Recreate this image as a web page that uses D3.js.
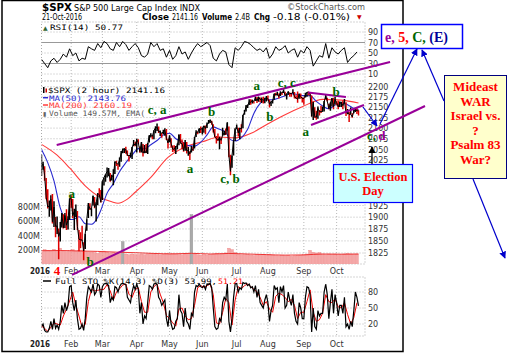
<!DOCTYPE html>
<html><head><meta charset="utf-8">
<script src="https://cdn.jsdelivr.net/npm/d3@7"></script>
<style>body{margin:0;background:#fff}svg{display:block}</style>
</head><body>
<svg id="c" width="512" height="353"></svg>
<script>
// ---------------- DATA ----------------
const monthLabels = ["Feb","Mar","Apr","May","Jun","Jul","Aug","Sep","Oct"];
const monthStartIdx = [19,39,61,82,103,125,145,168,189];
const spxClose = [
2012.7,2016.7,1990.3,1943.1,1922.0,1923.7,1938.7,1890.3,1921.8,1880.3,1881.3,1859.3,1869.0,1906.9,1877.1,1903.6,1883.0,1893.4,1940.2,
1939.4,1903.0,1912.5,1915.5,1880.1,1853.4,1852.2,1851.9,1829.1,1864.8,1895.6,1926.8,1917.8,1917.8,1945.5,1921.3,1929.8,1951.7,1948.1,1932.2,
1978.4,1986.5,1993.4,2000.0,2001.8,1979.3,1989.3,1989.6,2022.2,2019.6,2015.9,2027.2,2040.6,2049.6,2051.6,2049.8,2036.7,2035.9,2037.1,2055.0,2063.9,2059.7,
2072.8,2066.1,2045.2,2066.7,2041.9,2047.6,2042.0,2061.7,2082.4,2082.8,2080.7,2094.3,2100.8,2102.4,2091.5,2091.6,2087.8,2091.7,2095.2,2075.8,2065.3,
2081.4,2063.4,2051.1,2050.6,2057.1,2058.7,2084.4,2064.5,2064.1,2047.2,2066.7,2047.2,2047.6,2040.0,2052.3,2048.0,2076.1,2090.5,2090.1,2099.1,2097.0,
2099.3,2105.3,2099.1,2109.4,2112.1,2119.1,2115.5,2096.1,2079.1,2075.3,2071.5,2078.0,2071.2,2083.3,2088.9,2085.5,2113.3,2037.4,2000.5,2036.1,2070.8,2098.9,
2103.0,2088.6,2099.7,2097.9,2129.9,2137.2,2152.1,2152.4,2163.8,2161.7,2166.9,2163.8,2173.0,2165.2,2175.0,2168.5,2169.2,2166.6,2170.1,2173.6,
2170.8,2157.0,2163.8,2164.3,2182.9,2180.9,2181.7,2175.5,2185.8,2184.1,2190.2,2178.2,2182.2,2187.0,2183.9,2182.6,2186.9,2175.4,2172.5,2169.0,2180.4,2176.1,2171.0,
2170.9,2180.0,2186.5,2186.2,2181.3,2127.8,2159.0,2127.0,2125.8,2147.3,2139.2,2139.1,2139.8,2163.1,2177.2,2164.7,2146.1,2159.9,2171.4,2151.1,2168.3,
2161.2,2150.5,2159.7,2160.8,2153.7,2163.7,2136.7,2139.2,2132.6,2133.0,2126.5,2139.6,2144.3,2141.3,2141.2];
const spxHigh = [
2038.2,2021.9,2011.7,1985.3,1960.4,1935.7,1947.4,1950.3,1934.5,1900.2,1901.4,1876.0,1889.9,1908.9,1906.3,1909.0,1916.9,1902.0,1940.2,
1947.2,1939.0,1918.0,1927.4,1913.1,1873.0,1868.3,1881.6,1847.0,1864.8,1895.8,1930.7,1930.0,1918.8,1946.7,1943.7,1932.1,1951.8,1962.9,1958.9,
1978.4,1986.5,1994.0,2009.1,2008.0,1996.7,1992.7,2005.1,2022.4,2024.6,2017.6,2032.0,2046.7,2052.4,2053.1,2056.6,2048.0,2036.7,2042.7,2055.9,2072.2,2067.9,
2075.1,2074.0,2056.8,2067.3,2062.9,2060.6,2062.9,2065.1,2083.0,2087.8,2083.2,2094.7,2104.1,2111.1,2103.9,2094.3,2088.7,2096.0,2099.9,2097.9,2074.9,
2083.4,2076.1,2059.3,2060.2,2058.0,2064.2,2084.9,2086.0,2073.5,2067.1,2071.9,2067.5,2055.6,2045.9,2058.4,2055.6,2079.1,2094.7,2092.2,2099.1,2103.5,
2100.9,2105.3,2106.0,2113.4,2119.2,2120.6,2117.6,2109.0,2098.1,2081.3,2087.0,2079.6,2078.0,2101.0,2093.7,2099.0,2113.3,2104.0,2038.0,2036.1,2071.6,2098.9,
2108.7,2100.7,2100.7,2109.1,2131.7,2143.2,2155.4,2156.5,2169.0,2169.1,2168.2,2164.5,2175.6,2174.6,2175.1,2173.6,2173.5,2175.0,2172.9,2177.1,
2178.3,2168.1,2164.0,2168.2,2182.9,2185.4,2187.7,2183.5,2188.5,2186.3,2193.8,2187.7,2183.1,2188.5,2185.0,2185.2,2193.4,2186.8,2179.0,2187.9,2183.5,2183.2,2174.1,
2173.6,2184.9,2186.6,2187.9,2184.9,2178.5,2163.3,2149.8,2141.3,2151.3,2143.1,2153.6,2150.8,2165.1,2180.0,2172.7,2158.5,2161.1,2172.4,2172.7,2175.3,
2164.4,2165.5,2163.9,2162.9,2165.9,2169.6,2161.6,2145.4,2138.2,2149.2,2135.6,2144.4,2148.4,2147.2,2142.6];
const spxLow = [
1989.7,2004.2,1979.1,1938.8,1918.5,1901.1,1914.4,1886.7,1878.9,1857.8,1864.6,1812.3,1848.9,1877.9,1875.9,1877.1,1872.7,1873.7,1894.3,
1920.3,1897.8,1872.7,1900.5,1872.7,1828.5,1834.9,1850.3,1810.1,1833.0,1871.4,1898.2,1915.1,1902.2,1924.8,1919.3,1891.0,1925.4,1945.8,1931.8,
1937.1,1968.8,1977.0,1986.8,1989.2,1977.4,1979.8,1969.3,1994.3,2012.4,2004.2,2010.5,2022.2,2041.4,2042.0,2040.6,2034.9,2022.5,2031.9,2028.3,2057.5,2057.5,
2043.1,2062.6,2042.4,2043.1,2033.8,2041.7,2041.9,2039.7,2066.3,2078.1,2073.7,2073.7,2087.8,2093.3,2088.5,2081.2,2077.5,2085.8,2082.3,2071.9,2052.3,
2066.8,2054.3,2044.2,2045.6,2039.5,2050.5,2059.9,2064.2,2050.4,2044.7,2047.0,2041.1,2035.6,2025.9,2043.0,2047.3,2052.6,2078.9,2085.7,2087.9,2088.7,
2085.1,2089.0,2085.4,2100.3,2110.0,2112.1,2107.7,2089.8,2078.9,2064.1,2070.0,2050.4,2062.8,2082.0,2083.0,2084.0,2094.2,2032.6,1991.7,2008.6,2036.6,2070.0,
2097.9,2080.0,2074.0,2089.4,2099.7,2131.6,2139.6,2148.0,2155.1,2155.8,2159.1,2159.1,2164.9,2159.8,2163.2,2161.9,2160.2,2159.1,2159.7,2163.5,
2166.2,2149.3,2152.5,2159.1,2168.2,2177.9,2178.6,2170.8,2177.2,2179.4,2184.5,2178.1,2168.5,2180.4,2175.1,2175.0,2184.0,2171.3,2169.7,2160.4,2170.7,2170.7,2161.3,
2156.1,2173.6,2175.1,2179.1,2177.5,2127.8,2119.1,2123.8,2119.9,2122.4,2130.0,2135.9,2139.2,2139.6,2170.0,2163.5,2145.0,2141.6,2151.8,2145.2,2156.5,
2154.8,2144.9,2150.6,2150.3,2144.9,2160.4,2128.8,2132.8,2114.7,2132.9,2124.4,2135.5,2138.2,2133.4,2130.1];
const ma50Idx = [0,4,8,12,16,20,24,28,32,36,38,42,46,50,54,58,62,66,70,74,78,82,86,90,94,98,102,106,110,114,118,121,124,128,132,136,140,144,148,152,156,160,164,168,172,176,180,184,188,192,196,200,203];
const ma50 = [2050,2020,1979,1920,1895,1895,1901,1886,1885,1900,1915,1952,1973,2000,2020,2037,2052,2052,2061,2071,2084,2088,2075,2068,2059,2058,2067,2084,2103,2097,2090,2073,2070,2077,2097,2135,2159,2168,2168,2172,2178,2183,2181,2178,2178,2164,2153,2146,2155,2161,2156,2147,2144];
const ma200Idx = [0,10,18,28,38,45,49,55,60,70,81,92,103,114,124,135,144,155,167,180,192,203];
const ma200 = [2062,2037,2008,1968,1942,1933,1930,1939,1954,1987,2032,2056,2068,2079,2077,2089,2108,2130,2151,2169,2167,2160];
const rsi14 = [38,30,22,35,40,32,38,48,42,58, 45,50,35,40,38,62,58,55,68,60,
 72,68,58,55,70,62,72,66,55,62,68, 60,45,42,48,70,62,68,55,58,42,
 55,38,45,62,48,52,38,50,60,68,62, 66,70,64,40,35,48,55,52,28,22,60,
 55,62,72,70,66,60,55,58,52,60, 40,48,62,55,58,64,50,55,58,42,55,
 50,62,55,25,35,45,42,68,40,60,52, 48,55,60,32,40,45,52];
const stoK = [15,20,8,5,5,12,25,10,30,12,18,10,25,55,40,60,45,55,90,
 92,60,45,65,30,10,12,20,8,30,70,90,85,80,95,75,80,95,92,70,
 90,95,96,95,92,60,70,65,90,88,80,90,95,96,95,94,70,65,60,80,92,85,
 95,85,40,60,20,35,30,60,92,90,85,95,96,94,70,65,55,60,65,30,15,
 45,20,10,12,25,30,75,45,40,15,50,25,20,10,40,35,80,92,90,95,90,
 88,92,85,95,94,96,88,50,15,10,12,30,25,60,70,65,95,25,5,30,70,95,
 96,80,88,85,98,96,97,92,95,88,90,80,92,70,85,60,55,50,65,75,
 60,25,45,55,92,85,88,60,90,80,92,50,55,80,65,55,75,40,25,20,60,50,30,
 30,70,90,88,75,5,50,15,10,45,35,40,40,80,95,75,30,60,85,40,75,
 60,35,55,55,40,70,15,20,10,25,15,45,80,70,54];
const stoD = [16,12,6,14,22,20,18,35,48,63, 80,55,35,14,19,62,85,82,83,85,
 85,94,82,65,80,86,93,95,76,70,85, 88,62,42,42,80,90,95,76,60,36,
 30,22,16,48,50,35,28,30,55,88,92, 89,92,95,75,22,20,42,68,60,18,65,
 90,86,92,95,90,85,80,70,55,62, 48,42,72,78,75,70,62,66,55,30,42,
 42,62,84,42,25,28,40,75,62,60,67, 52,50,60,38,20,32,60];
const volume = [180,210,200,190,215,200,230,190,185,200, 210,190,200,205,185,180,175,170,160,175,
 190,175,165,170,160,175,320,150,140,150,145, 145,150,140,150,155,150,145,140,150,155,
 150,160,150,145,140,150,155,690,150,140,135, 140,135,145,150,160,155,150,165,230,210,170,
 150,140,140,145,135,130,140,135,145,140, 140,135,130,125,130,125,130,120,125,130,135,
 140,150,200,175,165,170,150,140,150,145,150, 140,145,150,155,150,145,150];
const volEmaIdx = [0,12,24,36,48,60,72,84,96,108,120,132,144,156,168,180,192,203];
const volEma = [195,198,192,186,176,168,158,152,160,150,158,150,142,135,138,150,148,150];
const priceTicks = [2200,2175,2150,2125,2100,2075,2050,2025,2000,1975,1950,1925,1900,1875,1850,1825];
const volTicks = [200,400,600,800];
const rsiTicks = [90,70,50,30,10];
const stoTicks = [80,50,20];
const waveLabels = [
 {t:"a",i:19.3,p:1951.6,c:"#006600"},{t:"b",i:31.1,p:1807.3,c:"#006600"},
 {t:"4",i:9.9,p:1788.5,c:"#ff0000"},{t:"c, a",i:74.0,p:2143.1,c:"#006600"},
 {t:"b",i:109.0,p:2139.1,c:"#006600"},{t:"a",i:95.1,p:2007.2,c:"#006600"},
 {t:"c, b",i:120.7,p:1984.8,c:"#006600"},{t:"a",i:137.8,p:2201.7,c:"#006600"},
 {t:"c, c",i:157.0,p:2209.9,c:"#006600"},{t:"b",i:146.3,p:2127.1,c:"#006600"},
 {t:"b",i:188.6,p:2187.7,c:"#006600"},{t:"a",i:169.2,p:2091.5,c:"#006600"},
 {t:"c,",i:211.3,p:2082.6,c:"#006600"},{t:"d",i:217.9,p:2082.6,c:"#990099"}];
const trendLines = [
 [[9.73,2060.5],[223.2,2261.9]],
 [[19.53,1780.5],[245.6,2152.8]],
 [[170.7,2185.7],[194.97,2174.7]],
 [[172.6,2107.3],[206.5,2155.2]]];

// ---------------- SCALES / LAYOUT ----------------
const svg = d3.select("#c");
const SANS = "'DejaVu Sans', Verdana, sans-serif";
const MONO = "'DejaVu Sans Mono', monospace";
const SERIF = "'Liberation Serif','Times New Roman',serif";
const L = 41.5, R = 365;
const PAN = {rsi:[22,81], main:[81,264], sto:[277,336]};
const ELECTION_BOX = {x:333.5, y:164.5, w:79, h:38};
const x = d3.scaleLinear().domain([0,203]).range([41.5,358.5]);
const y = d3.scaleLog().domain([1825,2200]).range([253,86.7]);
const yv = d3.scaleLinear().domain([0,800]).range([265,206.5]);
const yr = d3.scaleLinear().domain([10,90]).range([74,32]);
const ys = d3.scaleLinear().domain([20,80]).range([324,292]);

svg.append("rect").attr("width",512).attr("height",353).attr("fill","#fff");
const defs = svg.append("defs");
Object.entries(PAN).forEach(([k,[t,b]])=>{
  defs.append("clipPath").attr("id","clip-"+k).append("rect").attr("x",L).attr("y",t).attr("width",R-L).attr("height",b-t);
});
[["arrB","#0000cc"],["arrK","#000"]].forEach(([id,c])=>{
  defs.append("marker").attr("id",id).attr("viewBox","0 0 10 10").attr("refX",9).attr("refY",5)
   .attr("markerWidth",7).attr("markerHeight",7).attr("orient","auto-start-reverse").attr("markerUnits","userSpaceOnUse")
   .append("path").attr("d","M0,0L10,5L0,10z").attr("fill",c);
});

// frame
svg.append("rect").attr("x",2).attr("y",0.5).attr("width",401).attr("height",351).attr("fill","none").attr("stroke","#000").attr("stroke-width",1.5);

const GRID = "#b8b8b8";
function panelGrid(key, hy){
  const [t,b] = PAN[key];
  const g = svg.append("g");
  g.selectAll("line.v").data(monthStartIdx).join("line")
   .attr("x1",d=>x(d)).attr("x2",d=>x(d)).attr("y1",t).attr("y2",b)
   .attr("stroke",GRID).attr("stroke-dasharray","1,2");
  g.selectAll("line.h").data(hy).join("line")
   .attr("x1",L).attr("x2",R).attr("y1",d=>d.y).attr("y2",d=>d.y)
   .attr("stroke",d=>d.solid?"#999":GRID).attr("stroke-dasharray",d=>d.solid?null:"1,2");
  g.append("rect").attr("x",L).attr("y",t).attr("width",R-L).attr("height",b-t)
   .attr("fill","none").attr("stroke","#aaa").attr("stroke-dasharray","1,2");
}
panelGrid("rsi", rsiTicks.map(v=>({y:yr(v),solid:(v===70||v===30)})));
panelGrid("main", priceTicks.map(v=>({y:y(v)})));
panelGrid("sto", stoTicks.map(v=>({y:ys(v)})));

// axis labels (price labels lying under the Election box are hidden in the original)
function rightLabels(vals, sc){
  svg.append("g").selectAll("text").data(vals).join("text")
   .attr("x",368).attr("y",d=>sc(d)+3).text(d=>d)
   .attr("font-family",SANS).attr("font-size",8).attr("fill","#333");
}
rightLabels(rsiTicks, yr);
rightLabels(priceTicks.filter(v=>{const yy=y(v); return yy<ELECTION_BOX.y-2 || yy>ELECTION_BOX.y+ELECTION_BOX.h+2;}), y);
rightLabels(stoTicks, ys);
svg.append("g").selectAll("text").data(volTicks).join("text")
 .attr("x",40).attr("y",d=>yv(d)+3).attr("text-anchor","end").text(d=>d+"M")
 .attr("font-family",SANS).attr("font-size",8).attr("fill","#333");
[273.5, 347].forEach(yy=>{
  svg.append("text").attr("x",30).attr("y",yy).text("2016").attr("font-family",SANS).attr("font-weight","bold")
   .attr("font-size",8.5).attr("fill","#222").attr("textLength",20).attr("lengthAdjust","spacingAndGlyphs");
  svg.append("g").selectAll("text").data(monthLabels).join("text")
   .attr("x",(d,i)=>x(monthStartIdx[i])).attr("y",yy).attr("text-anchor","middle").text(d=>d)
   .attr("font-family",SANS).attr("font-size",8).attr("fill","#333");
});

// header
function txt(s,xx,yy,opt={}){
  const t = svg.append("text").attr("x",xx).attr("y",yy).text(s)
   .attr("font-family",opt.f||SANS).attr("font-size",opt.s||8).attr("fill",opt.c||"#000");
  if(opt.b) t.attr("font-weight","bold");
  if(opt.w) t.attr("textLength",opt.w).attr("lengthAdjust","spacingAndGlyphs");
  if(opt.a) t.attr("text-anchor",opt.a);
  return t;
}
txt("$SPX",42,11,{s:11,b:true,w:30});
txt("S&P 500 Large Cap Index INDX",74,10.5,{s:8.5,w:126});
txt("\u00a9StockCharts.com",287,10,{s:8,w:78,c:"#555"});
txt("21-Oct-2016",42,19.5,{s:8,w:40});
txt("Close",142,19.5,{s:8.5,b:true,w:27});
txt("2141.16",172,19.5,{s:8,w:26});
txt("Volume",202,19.5,{s:8.5,b:true,w:30});
txt("2.4B",235,19.5,{s:8,w:15});
txt("Chg",254,19.5,{s:8.5,b:true,w:16});
txt("-0.18 (-0.01%)",273,19.5,{s:8,w:77});
txt("\u25BC",357,18.5,{s:6,c:"#cc0000"});

// ---------------- RSI ----------------
txt("\u25B2",43,29.5,{s:6,c:"#336633"});
txt("RSI(14) 50.77",50,29.5,{f:MONO,s:7.5,w:73});
svg.append("path").datum(rsi14).attr("clip-path","url(#clip-rsi)")
 .attr("d",d3.line().x((d,k)=>x(k*2)).y(d=>yr(d)))
 .attr("fill","none").attr("stroke","#000").attr("stroke-width",1);

// ---------------- MAIN ----------------
const gm = svg.append("g").attr("clip-path","url(#clip-main)");
gm.selectAll("rect.vol").data(volume).join("rect")
 .attr("x",(d,k)=>x(k*2)-1.4).attr("width",2.8)
 .attr("y",d=>yv(d)).attr("height",d=>yv(0)-yv(d))
 .attr("fill",d=>d>300?"#aaaaaa":"#f4a8a8").attr("stroke",d=>d>300?"#999":"#e88").attr("stroke-width",0.4);
gm.append("path").datum(volEma)
 .attr("d",d3.line().curve(d3.curveMonotoneX).x((d,k)=>x(volEmaIdx[k])).y(d=>yv(d)))
 .attr("fill","none").attr("stroke","#ee3333").attr("stroke-width",1);
gm.append("path").datum(ma200)
 .attr("d",d3.line().curve(d3.curveMonotoneX).x((d,k)=>x(ma200Idx[k])).y(d=>y(d)))
 .attr("fill","none").attr("stroke","#ff3b3b").attr("stroke-width",1.1);
gm.append("path").datum(ma50)
 .attr("d",d3.line().curve(d3.curveMonotoneX).x((d,k)=>x(ma50Idx[k])).y(d=>y(d)))
 .attr("fill","none").attr("stroke","#2a2ad0").attr("stroke-width",1.1);
const days = d3.range(spxClose.length);
gm.selectAll("line.hl").data(days).join("line")
 .attr("x1",i=>x(i)).attr("x2",i=>x(i))
 .attr("y1",i=>y(spxHigh[i])).attr("y2",i=>y(spxLow[i]))
 .attr("stroke",i=>(i>0&&spxClose[i]<spxClose[i-1])?"#e00000":"#000").attr("stroke-width",1.5);
gm.append("path").datum(days)
 .attr("d",d3.line().x(i=>x(i)).y(i=>y(spxClose[i])))
 .attr("fill","none").attr("stroke","#000").attr("stroke-width",1);

// legend
const LG = {f:MONO,s:7.5};
txt("$SPX (2 hour) 2141.16",48,93,{...LG,w:117});
svg.append("rect").attr("x",43).attr("y",87).attr("width",1.5).attr("height",6).attr("fill","#000");
svg.append("rect").attr("x",45.5).attr("y",88.5).attr("width",1.5).attr("height",4).attr("fill","#c00");
svg.append("line").attr("x1",43).attr("x2",48).attr("y1",97.7).attr("y2",97.7).attr("stroke","#2a2ad0").attr("stroke-width",1.5);
txt("MA(50) 2143.76",49,100.5,{...LG,w:77,c:"#2a2ad0"});
svg.append("line").attr("x1",43).attr("x2",48).attr("y1",105).attr("y2",105).attr("stroke","#ff3b3b").attr("stroke-width",1.5);
txt("MA(200) 2160.19",49,108,{...LG,w:83,c:"#ff3b3b"});
txt("\u25AE",43,115.5,{s:6,c:"#666"});
txt("Volume 149.57M, EMA(",49,115.5,{...LG,w:96,c:"#555"});

// ---------------- STO ----------------
svg.append("line").attr("x1",43).attr("x2",51).attr("y1",281).attr("y2",281).attr("stroke","#000").attr("stroke-width",1.5);
txt("Full STO %K(14,3) %D(3) 53.99,",55,284,{...LG,w:162});
txt("51.21",218,284,{...LG,w:25,c:"#ff0000"});
const gs = svg.append("g").attr("clip-path","url(#clip-sto)");
gs.append("path").datum(stoD).attr("d",d3.line().x((d,k)=>x(k*2)).y(d=>ys(d)))
 .attr("fill","none").attr("stroke","#ee0000").attr("stroke-width",1);
gs.append("path").datum(stoK).attr("d",d3.line().x((d,k)=>x(k)).y(d=>ys(d)))
 .attr("fill","none").attr("stroke","#000").attr("stroke-width",1.2);

// ---------------- ANNOTATIONS ----------------
const PURPLE = "#990099";
svg.append("g").selectAll("line").data(trendLines).join("line")
 .attr("x1",d=>x(d[0][0])).attr("y1",d=>y(d[0][1])).attr("x2",d=>x(d[1][0])).attr("y2",d=>y(d[1][1]))
 .attr("stroke",PURPLE).attr("stroke-width",2);
const gw = svg.append("g");
waveLabels.forEach(w=>{
  gw.append("text").attr("x",x(w.i)).attr("y",y(w.p)+4.3).attr("text-anchor","middle")
   .text(w.t).attr("font-family",SERIF).attr("font-weight","bold").attr("font-size",13).attr("fill",w.c);
});

// boxes
function box(x0,y0,w,h,fill,stroke,sw){
  svg.append("rect").attr("x",x0).attr("y",y0).attr("width",w).attr("height",h).attr("fill",fill).attr("stroke",stroke).attr("stroke-width",sw);
}
box(381.5,24.5,81,24,"#fff","#0000ff",1.5);
const e5 = svg.append("text").attr("x",385).attr("y",42).attr("font-family",SERIF).attr("font-weight","bold").attr("font-size",14.5)
  .attr("textLength",63).attr("lengthAdjust","spacingAndGlyphs");
[["e, ",PURPLE],["5, ","#ff0000"],["C, ","#006600"],["(E)","#000099"]].forEach(([s,c])=>e5.append("tspan").text(s).attr("fill",c));

box(444.5,75.5,62,103,"#ffffcc","#000080",1);
["Mideast","WAR","Israel vs.","?","Psalm 83","War?"].forEach((s,k)=>{
  svg.append("text").attr("x",475.5).attr("y",91+k*14.6).attr("text-anchor","middle").text(s)
   .attr("font-family",SERIF).attr("font-weight","bold").attr("font-size",13).attr("fill","#ff0000");
});
box(ELECTION_BOX.x,ELECTION_BOX.y,ELECTION_BOX.w,ELECTION_BOX.h,"#ccffff","#0000ff",1.2);
["U.S. Election","Day"].forEach((s,k)=>{
  svg.append("text").attr("x",373).attr("y",180.5+k*14.2).attr("text-anchor","middle").text(s)
   .attr("font-family",SERIF).attr("font-weight","bold").attr("font-size",12.5).attr("fill","#ff0000");
});

// arrows
function arrow(x1,y1,x2,y2,m,c){
  svg.append("line").attr("x1",x1).attr("y1",y1).attr("x2",x2).attr("y2",y2).attr("stroke",c).attr("stroke-width",1.2).attr("marker-end","url(#"+m+")");
}
arrow(372,164,372,147,"arrK","#000");
arrow(380,124,417,49,"arrB","#0000cc");
arrow(363,107,377,126,"arrB","#0000cc");
arrow(444,101,422,50,"arrB","#0000cc");
arrow(473,179,505,258,"arrB","#0000cc");
</script>
</body></html>
